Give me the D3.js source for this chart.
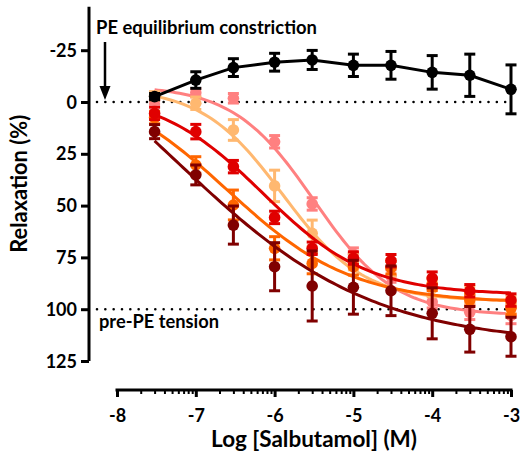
<!DOCTYPE html>
<html>
<head>
<meta charset="utf-8">
<script src="https://cdn.jsdelivr.net/npm/d3@7"></script>
<style>
body { margin: 0; background: #fff; }
text { font-family: Lato, "Open Sans", sans-serif; font-weight: 700; fill: #000; }
</style>
</head>
<body>
<svg id="chart" width="521" height="457"></svg>
<script>
// log [salbutamol] (M) of each dose
var logConc = [-7.523, -7, -6.523, -6, -5.523, -5, -4.523, -4, -3.523, -3];
var xTicks = [-8, -7, -6, -5, -4, -3];
var yTicks = [-25, 0, 25, 50, 75, 100, 125];

// PE equilibrium constriction (black, joined points)
var peMean = [-2.6, -10.6, -16.6, -19.2, -20.3, -17.7, -17.7, -14.3, -12.9, -6.1];
var peErr  = [1.5, 4, 4.3, 4.3, 4.6, 5.4, 6.7, 8.1, 10.2, 11.8];

// relaxation series
var pinkMean   = [-1, -4.5, -1.8, 19.2, 49.2, 73.4, 84, 96.4, 101.5, 103];
var pinkErr    = [2, 2, 2.3, 3, 3, 3, 3, 3, 3.5, 4];
var ltOrMean   = [-3, 0.6, 13.5, 40.5, 63.4, 77, 80, 90, 93, 98];
var ltOrErr    = [2, 3, 5, 7.6, 6.4, 4, 4, 4, 4, 4];
var orangeMean = [7.5, 30.4, 49.7, 70.6, 77.9, 79.5, 80, 88, 95.6, 99.6];
var orangeErr  = [3, 4, 7.2, 5.6, 5, 4, 3, 3, 3, 3];
var redMean    = [5.5, 14.3, 31.2, 55.7, 70.6, 75.3, 76.6, 85, 91.1, 95.6];
var redErr     = [3, 3.5, 3, 3, 3, 3, 3, 3, 3, 3];
var dkRedMean  = [14.3, 35.2, 59.4, 79.5, 88.8, 89.4, 91.1, 102, 109.7, 113.3];
var dkRedErr   = [3.4, 4.8, 9.2, 11.6, 16.9, 13, 12, 12.3, 11, 9.4];

var seriesColors = ["#ff8080", "#ffb870", "#ff6600", "#e00000", "#800000"];
var seriesMeans  = [pinkMean, ltOrMean, orangeMean, redMean, dkRedMean];
var seriesErrs   = [pinkErr, ltOrErr, orangeErr, redErr, dkRedErr];

// fitted sigmoid (bottom, top, logEC50, hill) for each series
var fitBottom  = [-8, -7, -12, -5, -60];
var fitTop     = [103, 96, 97, 93, 117];
var fitLogEC50 = [-5.5, -5.9, -6.6, -6.15, -7.25];
var fitHill    = [0.85, 0.85, 0.55, 0.65, 0.35];

var svg = d3.select("#chart");

var x = d3.scaleLinear().domain([-8, -3]).range([117, 511]);
var y = d3.scaleLinear().domain([0, 125]).range([102, 361]);

// plain hyphen minus like the original
var hyphen = function(d) { return String(d); };

// scale a label's font so it spans the given width
function fitText(sel, width) {
  var fs = parseFloat(sel.style("font-size"));
  var w = sel.node().getComputedTextLength();
  sel.style("font-size", (fs * width / w).toFixed(2) + "px");
}

// y axis
var yAxis = d3.axisLeft(y).tickValues(yTicks).tickSize(8).tickPadding(4).tickFormat(hyphen);
var gy = svg.append("g").attr("transform", "translate(89,0)").call(yAxis);
gy.select(".domain").remove();
gy.append("line").attr("x1", 0).attr("x2", 0).attr("y1", y(-46)).attr("y2", y(125))
  .attr("stroke", "#000").attr("stroke-width", 3);
gy.selectAll(".tick line").attr("stroke-width", 3);
gy.selectAll(".tick text").style("font-size", "18px").attr("dy", "0.34em");

// x axis with log minor ticks
var minor = [];
for (var d = -8; d < -3; d++) {
  for (var k = 2; k <= 9; k++) minor.push(d + Math.log10(k));
}
var gx = svg.append("g").attr("transform", "translate(0,390)");
gx.append("g").call(d3.axisBottom(x).tickValues(minor).tickSize(4).tickFormat(""))
  .call(function(g) { g.select(".domain").remove(); g.selectAll("line").attr("stroke-width", 2); });
var xAxis = d3.axisBottom(x).tickValues(xTicks).tickSize(7).tickPadding(12).tickFormat(hyphen);
gx.append("g").call(xAxis).call(function(g) {
  g.select(".domain").remove();
  g.selectAll(".tick line").attr("stroke-width", 3);
  g.selectAll(".tick text").style("font-size", "18px");
});
gx.append("line").attr("x1", x(-8) - 1.5).attr("x2", x(-3) + 1.5).attr("y1", 0).attr("y2", 0)
  .attr("stroke", "#000").attr("stroke-width", 3);

// axis titles
var xTitle = svg.append("text").attr("x", (x(-8) + x(-3)) / 2).attr("y", 447)
  .attr("text-anchor", "middle").style("font-size", "18px").text("Log [Salbutamol] (M)");
fitText(xTitle, 206);
var yTitle = svg.append("text").attr("transform", "translate(27," + ((y(-46) + y(125)) / 2) + ") rotate(-90)")
  .attr("text-anchor", "middle").style("font-size", "18px").text("Relaxation (%)");
fitText(yTitle, 138);

// reference lines
[0, 100].forEach(function(v) {
  svg.append("line").attr("x1", 97).attr("x2", 506).attr("y1", y(v)).attr("y2", y(v))
    .attr("stroke", "#000").attr("stroke-width", 2.6)
    .attr("stroke-linecap", "round").attr("stroke-dasharray", "0 8.33");
});

var note1 = svg.append("text").attr("x", 96).attr("y", 34).style("font-size", "15px")
  .text("PE equilibrium constriction");
fitText(note1, 221);
var note2 = svg.append("text").attr("x", 99).attr("y", 328).style("font-size", "15px")
  .text("pre-PE tension");
fitText(note2, 120);

// arrow
svg.append("line").attr("x1", 105).attr("x2", 105).attr("y1", 42).attr("y2", 88)
  .attr("stroke", "#000").attr("stroke-width", 2.5);
svg.append("path").attr("d", "M99.5,86 L110.5,86 L105,100 Z").attr("fill", "#000");

function drawPoints(g, means, errs, color) {
  var pts = g.selectAll(".pt").data(logConc).enter().append("g");
  pts.append("line")
    .attr("x1", function(d) { return x(d); }).attr("x2", function(d) { return x(d); })
    .attr("y1", function(d, i) { return y(means[i] - errs[i]); })
    .attr("y2", function(d, i) { return y(means[i] + errs[i]); })
    .attr("stroke", color).attr("stroke-width", 3);
  [-1, 1].forEach(function(s) {
    pts.append("line")
      .attr("x1", function(d) { return x(d) - 5.5; }).attr("x2", function(d) { return x(d) + 5.5; })
      .attr("y1", function(d, i) { return y(means[i] + s * errs[i]); })
      .attr("y2", function(d, i) { return y(means[i] + s * errs[i]); })
      .attr("stroke", color).attr("stroke-width", 3);
  });
  pts.append("circle")
    .attr("cx", function(d) { return x(d); })
    .attr("cy", function(d, i) { return y(means[i]); })
    .attr("r", 5.8).attr("fill", color);
}

var line = d3.line().x(function(d) { return x(d[0]); }).y(function(d) { return y(d[1]); });

seriesColors.forEach(function(color, s) {
  var g = svg.append("g");
  var xs = d3.range(0, 101).map(function(i) { return logConc[0] + (logConc[9] - logConc[0]) * i / 100; });
  var fit = xs.map(function(lx) {
    return [lx, fitBottom[s] + (fitTop[s] - fitBottom[s]) /
      (1 + Math.pow(10, (fitLogEC50[s] - lx) * fitHill[s]))];
  });
  g.append("path").attr("d", line(fit)).attr("fill", "none")
    .attr("stroke", color).attr("stroke-width", 3);
  drawPoints(g, seriesMeans[s], seriesErrs[s], color);
});

// PE constriction series
var gpe = svg.append("g");
gpe.append("path").attr("d", line(logConc.map(function(d, i) { return [d, peMean[i]]; })))
  .attr("fill", "none").attr("stroke", "#000").attr("stroke-width", 3);
drawPoints(gpe, peMean, peErr, "#000");
</script>
</body>
</html>
